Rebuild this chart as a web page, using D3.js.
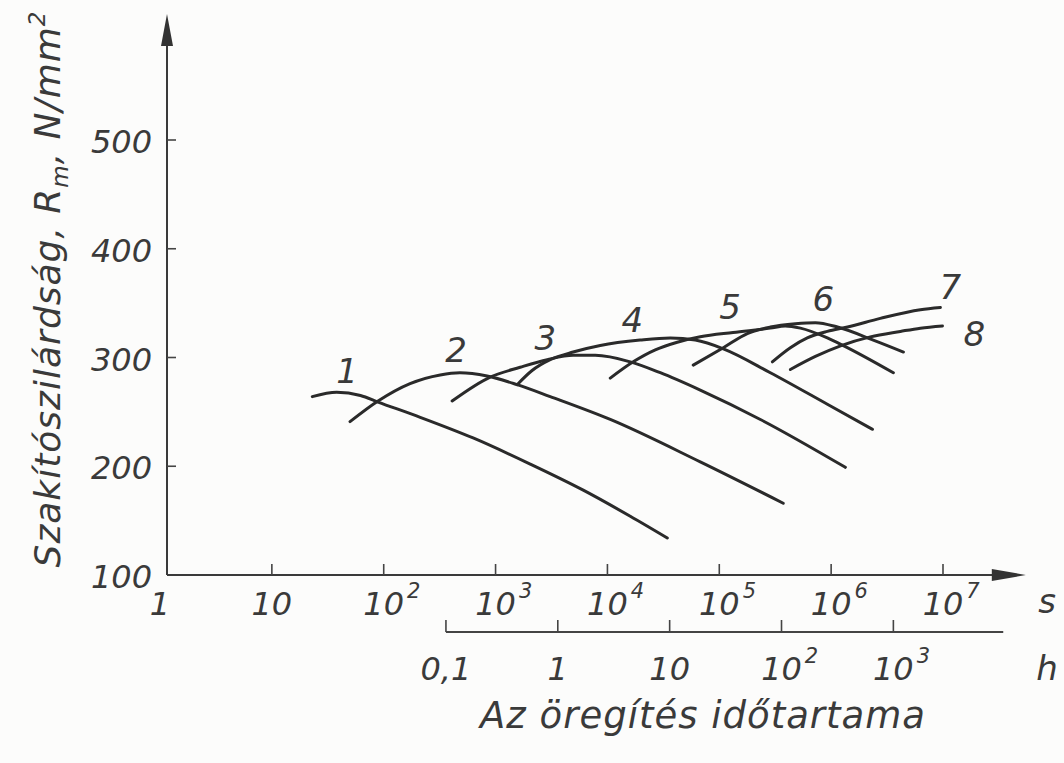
<!DOCTYPE html>
<html><head><meta charset="utf-8">
<script src="https://cdn.jsdelivr.net/npm/d3@7"></script>
<style>
html,body{margin:0;padding:0;background:#fcfcfb;}
svg{display:block;}
text{font-family:"DejaVu Sans",sans-serif;font-style:italic;fill:#3a3a3a;}
</style></head><body>
<svg id="chart" width="1064" height="763"></svg>
<script>
// ---- data ----
const yTicks = [200, 300, 400, 500];
const yTickLabels = ["100", "200", "300", "400", "500"];
const yLabelValues = [100, 200, 300, 400, 500];
const sTicks = [1, 10, 1e2, 1e3, 1e4, 1e5, 1e6, 1e7];
const sTickBase = ["1", "10", "10", "10", "10", "10", "10", "10"];
const sTickExp = ["", "", "2", "3", "4", "5", "6", "7"];
const hTicks = [0.1, 1, 10, 100, 1000];
const hTickBase = ["0,1", "1", "10", "10", "10"];
const hTickExp = ["", "", "", "2", "3"];
const curveNames = ["1", "2", "3", "4", "5", "6", "7", "8"];

// aging time (s) and tensile strength Rm (N/mm2) for each curve
const t1 = [23, 38, 62, 89, 212, 630, 2040, 6080, 16000, 34300];
const r1 = [264, 268, 265, 259, 245, 226, 202, 178, 154, 134];
const t2 = [50, 89, 172, 320, 480, 840, 1560, 3080, 10600, 67600, 373000];
const r2 = [241, 260, 276, 284, 286, 283, 275, 264, 243, 204, 166];
const t3 = [409, 895, 1660, 2900, 4940, 7780, 16000, 29700, 67600, 233000, 1340000];
const r3 = [260, 282, 291, 298, 302, 302, 296, 286, 270, 243, 199];
const t4 = [1560, 2120, 3080, 4940, 8630, 19600, 36500, 61000, 108700, 286000, 925000, 2340000];
const r4 = [275, 288, 298, 305, 311, 316, 318, 316, 308, 286, 257, 234];
const t5 = [10600, 17000, 26800, 42100, 67600, 133000, 286000, 389000, 531000, 925000, 1285000, 3600000];
const r5 = [281, 296, 307, 314, 319, 323, 327, 329, 327, 318, 311, 286];
const t6 = [58500, 108700, 178000, 286000, 479000, 723000, 1140000, 2380000, 4430000];
const r6 = [293, 309, 322, 328, 331, 332, 328, 316, 305];
const t7 = [298000, 432000, 612000, 925000, 1400000, 2750000, 6280000, 9480000];
const r7 = [296, 309, 318, 324, 328, 336, 344, 346];
const t8 = [432000, 723000, 1230000, 2240000, 4160000, 6280000, 9890000];
const r8 = [289, 301, 311, 319, 324, 327, 329];
// curve label anchors (time s, Rm)
const labelT = [47, 444, 2780, 16700, 125000, 851000, 11600000, 19100000];
const labelR = [277, 296, 307, 323, 335, 343, 354, 311];

const yTitle = ["Szakítószilárdság, R", "m", ", N/mm", "2"];
const xTitle = "Az öregítés időtartama";
const sUnit = "s", hUnit = "h";

// ---- drawing ----
const svg = d3.select("#chart");
const ink = "#2a2a2a";
const x = d3.scaleLog().domain([1, 1e7]).range([160, 943]);
const y = d3.scaleLinear().domain([100, 500]).range([575, 140]);
const axisX0 = 167;               // y axis position
const sAxisEnd = 5.5e7;           // arrow tip of time axis (s)
const hAxisEnd = 9600;            // end of hours axis (h)
const hAxisY = 632;

// y axis
svg.append("line").attr("x1", axisX0).attr("x2", axisX0)
  .attr("y1", y(100)).attr("y2", 40)
  .attr("stroke", "#3a3a3a").attr("stroke-width", 2);
svg.append("path").attr("d", `M${axisX0},14 L${axisX0-6},46 L${axisX0+6},46 Z`).attr("fill", "#333");
svg.selectAll(".ytick").data(yTicks).join("line")
  .attr("x1", axisX0).attr("x2", axisX0 + 9)
  .attr("y1", d => y(d)).attr("y2", d => y(d))
  .attr("stroke", "#444").attr("stroke-width", 1.6);
svg.selectAll(".ylab").data(yLabelValues).join("text")
  .attr("x", 152).attr("y", d => y(d) + 13)
  .attr("text-anchor", "end").attr("font-size", 32)
  .text((d, i) => yTickLabels[i]);

// x (seconds) axis
svg.append("line").attr("x1", axisX0).attr("x2", x(sAxisEnd) - 28)
  .attr("y1", y(100)).attr("y2", y(100))
  .attr("stroke", "#3a3a3a").attr("stroke-width", 2);
svg.append("path").attr("d", `M${x(sAxisEnd)},${y(100)} L${x(sAxisEnd)-34},${y(100)-6} L${x(sAxisEnd)-34},${y(100)+6} Z`).attr("fill", "#333");
svg.selectAll(".stick").data(sTicks.slice(1)).join("line")
  .attr("x1", d => x(d)).attr("x2", d => x(d))
  .attr("y1", y(100)).attr("y2", y(100) - 11)
  .attr("stroke", "#444").attr("stroke-width", 1.6);
sTicks.forEach((v, i) => {
  const g = svg.append("g");
  const base = g.append("text").attr("x", x(v)).attr("y", 615)
    .attr("text-anchor", "middle").attr("font-size", 32).text(sTickBase[i]);
  if (sTickExp[i]) {
    const w = base.node().getComputedTextLength();
    g.append("text").attr("x", x(v) + w / 2 + 3).attr("y", 598)
      .attr("font-size", 21).text(sTickExp[i]);
  }
});
svg.append("text").attr("x", 1047).attr("y", 613).attr("text-anchor", "middle")
  .attr("font-size", 34).text(sUnit);

// hours axis
svg.append("line").attr("x1", x(hTicks[0] * 3600)).attr("x2", x(hAxisEnd * 3600))
  .attr("y1", hAxisY).attr("y2", hAxisY)
  .attr("stroke", "#444").attr("stroke-width", 1.8);
svg.selectAll(".htick").data(hTicks).join("line")
  .attr("x1", d => x(d * 3600)).attr("x2", d => x(d * 3600))
  .attr("y1", hAxisY).attr("y2", hAxisY - 12)
  .attr("stroke", "#444").attr("stroke-width", 1.6);
hTicks.forEach((v, i) => {
  const g = svg.append("g");
  const base = g.append("text").attr("x", x(v * 3600)).attr("y", 680)
    .attr("text-anchor", "middle").attr("font-size", 32).text(hTickBase[i]);
  if (hTickExp[i]) {
    const w = base.node().getComputedTextLength();
    g.append("text").attr("x", x(v * 3600) + w / 2 + 3).attr("y", 663)
      .attr("font-size", 21).text(hTickExp[i]);
  }
});
svg.append("text").attr("x", 1047).attr("y", 680).attr("text-anchor", "middle")
  .attr("font-size", 34).text(hUnit);

// titles
svg.append("text").attr("x", 703).attr("y", 728).attr("text-anchor", "middle")
  .attr("font-size", 37).attr("letter-spacing", 1).text(xTitle);
const yt = svg.append("text").attr("transform", "translate(60,289) rotate(-90)")
  .attr("text-anchor", "middle").attr("font-size", 36).attr("letter-spacing", 1);
yt.append("tspan").text(yTitle[0]);
yt.append("tspan").attr("font-size", 23).attr("dy", 8).text(yTitle[1]);
yt.append("tspan").attr("dy", -8).text(yTitle[2]);
yt.append("tspan").attr("font-size", 23).attr("dy", -15).text(yTitle[3]);

// curves
const series = [[t1, r1], [t2, r2], [t3, r3], [t4, r4], [t5, r5], [t6, r6], [t7, r7], [t8, r8]];
const line = d3.line().x(d => x(d[0])).y(d => y(d[1])).curve(d3.curveMonotoneX);
series.forEach(([ts, rs], i) => {
  svg.append("path").datum(ts.map((t, j) => [t, rs[j]]))
    .attr("d", line).attr("fill", "none")
    .attr("stroke", ink).attr("stroke-width", 3).attr("stroke-linecap", "round");
});
svg.selectAll(".clab").data(curveNames).join("text")
  .attr("x", (d, i) => x(labelT[i])).attr("y", (d, i) => y(labelR[i]))
  .attr("text-anchor", "middle").attr("font-size", 34).text(d => d);
</script>
</body></html>
